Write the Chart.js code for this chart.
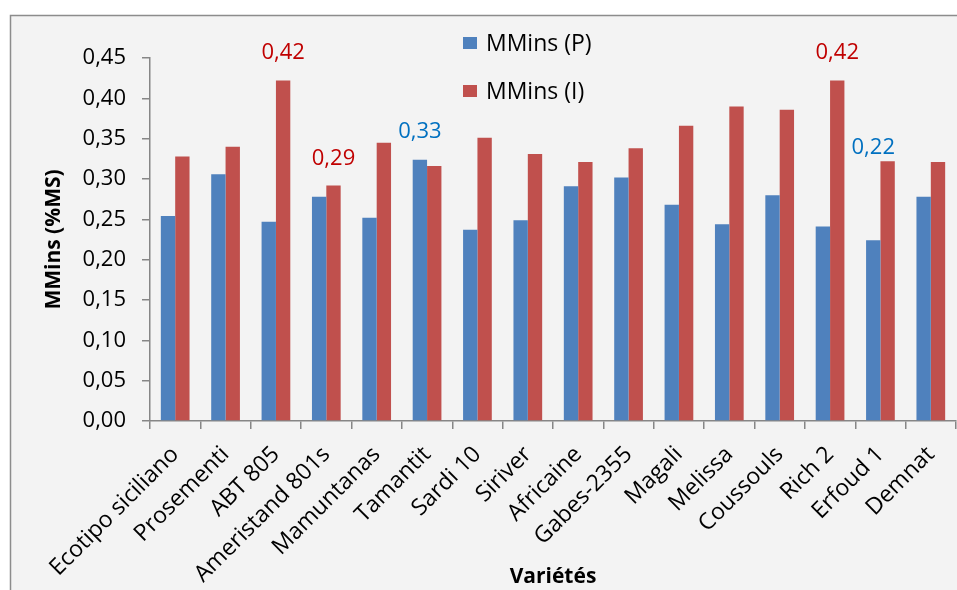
<!DOCTYPE html>
<html>
<head>
<meta charset="utf-8">
<script src="https://cdn.jsdelivr.net/npm/chart.js@4"></script>
<style>
  html, body { margin: 0; padding: 0; background: #fff; }
  #wrap { width: 957px; height: 590px; }
</style>
</head>
<body>
<div id="wrap"><canvas id="myChart" width="957" height="590"></canvas></div>
<script>
var varietes = ['Ecotipo siciliano', 'Prosementi', 'ABT 805', 'Ameristand 801s', 'Mamuntanas',
  'Tamantit', 'Sardi 10', 'Siriver', 'Africaine', 'Gabes-2355', 'Magali', 'Melissa',
  'Coussouls', 'Rich 2', 'Erfoud 1', 'Demnat'];
var mminsP = [0.254, 0.306, 0.247, 0.278, 0.252, 0.324, 0.237, 0.249, 0.291, 0.302, 0.268, 0.244, 0.280, 0.241, 0.224, 0.278];
var mminsI = [0.328, 0.340, 0.422, 0.292, 0.345, 0.316, 0.351, 0.331, 0.321, 0.338, 0.366, 0.390, 0.386, 0.422, 0.322, 0.321];
// labels written on a few bars: [dataset, index, text, pixels above the bar]
var etiquettes = [
  [1, 2, '0,42', 28],
  [1, 3, '0,29', 27],
  [0, 5, '0,33', 28],
  [1, 13, '0,42', 28],
  [0, 14, '0,22', 93]
];
var police = 'Open Sans';

var fond = {
  id: 'fond',
  beforeDraw: function(chart) {
    var c = chart.ctx;
    c.save();
    c.fillStyle = '#ffffff';
    c.fillRect(0, 0, chart.width, chart.height);
    c.fillStyle = '#f3f3f3';
    c.fillRect(10, 15, chart.width, chart.height);
    c.strokeStyle = '#8c8c8c';
    c.lineWidth = 1.5;
    c.beginPath();
    c.moveTo(10.5, chart.height);
    c.lineTo(10.5, 15.5);
    c.lineTo(chart.width, 15.5);
    c.stroke();
    c.restore();
  },
  afterDraw: function(chart) {
    var c = chart.ctx;
    c.save();
    c.font = '22px "' + police + '"';
    c.textAlign = 'center';
    c.textBaseline = 'middle';
    etiquettes.forEach(function(e) {
      var bar = chart.getDatasetMeta(e[0]).data[e[1]];
      c.fillStyle = e[0] == 1 ? '#c00000' : '#0070c0';
      c.fillText(e[2], bar.x, bar.y - e[3]);
    });
    // legend
    var ds = chart.data.datasets;
    c.textAlign = 'left';
    c.font = '23px "' + police + '"';
    for (var i = 0; i < ds.length; i++) {
      var y = 43 + i * 48;
      c.fillStyle = ds[i].backgroundColor;
      c.fillRect(463, y - 6, 14, 12);
      c.fillStyle = '#000';
      c.fillText(ds[i].label, 486, y + 1);
    }
    c.restore();
  }
};

var ctx = document.getElementById('myChart').getContext('2d');
var chart = new Chart(ctx, {
  type: 'bar',
  data: {
    labels: varietes,
    datasets: [{
      label: 'MMins (P)',
      backgroundColor: '#4f81bd',
      data: mminsP
    }, {
      label: 'MMins (I)',
      backgroundColor: '#c0504d',
      data: mminsI
    }]
  },
  options: {
    responsive: false,
    animation: false,
    devicePixelRatio: 1,
    categoryPercentage: 0.57,
    barPercentage: 1,
    layout: { padding: { left: 0, top: 58, right: 1, bottom: 0 } },
    plugins: {
      legend: { display: false },
      tooltip: { enabled: false }
    },
    scales: {
      x: {
        afterFit: function(scale) {
          scale.height = 169;
          scale.paddingRight = 0;
        },
        grid: { drawOnChartArea: false, color: '#868686', tickLength: 8, lineWidth: 1.5 },
        border: { color: '#868686', width: 1.5 },
        ticks: {
          color: '#000',
          font: { family: police, size: 23 },
          minRotation: 45, maxRotation: 45,
          autoSkip: false,
          padding: 12
        },
        title: {
          display: true,
          text: 'Variétés',
          color: '#000',
          font: { family: police, size: 21, weight: 'bold' },
          padding: { top: 0, bottom: 0 }
        }
      },
      y: {
        min: 0,
        max: 0.45,
        afterFit: function(scale) { scale.width = 150; },
        grid: { drawOnChartArea: false, color: '#868686', tickLength: 8, lineWidth: 1.5 },
        border: { color: '#868686', width: 1.5 },
        ticks: {
          stepSize: 0.05,
          color: '#000',
          font: { family: police, size: 22 },
          padding: 16,
          callback: function(v) { return v.toFixed(2).replace('.', ','); }
        },
        title: {
          display: true,
          text: 'MMins (%MS)',
          color: '#000',
          font: { family: police, size: 21, weight: 'bold' },
          padding: { top: 41, bottom: 0 }
        }
      }
    }
  },
  plugins: [fond]
});
</script>
</body>
</html>
